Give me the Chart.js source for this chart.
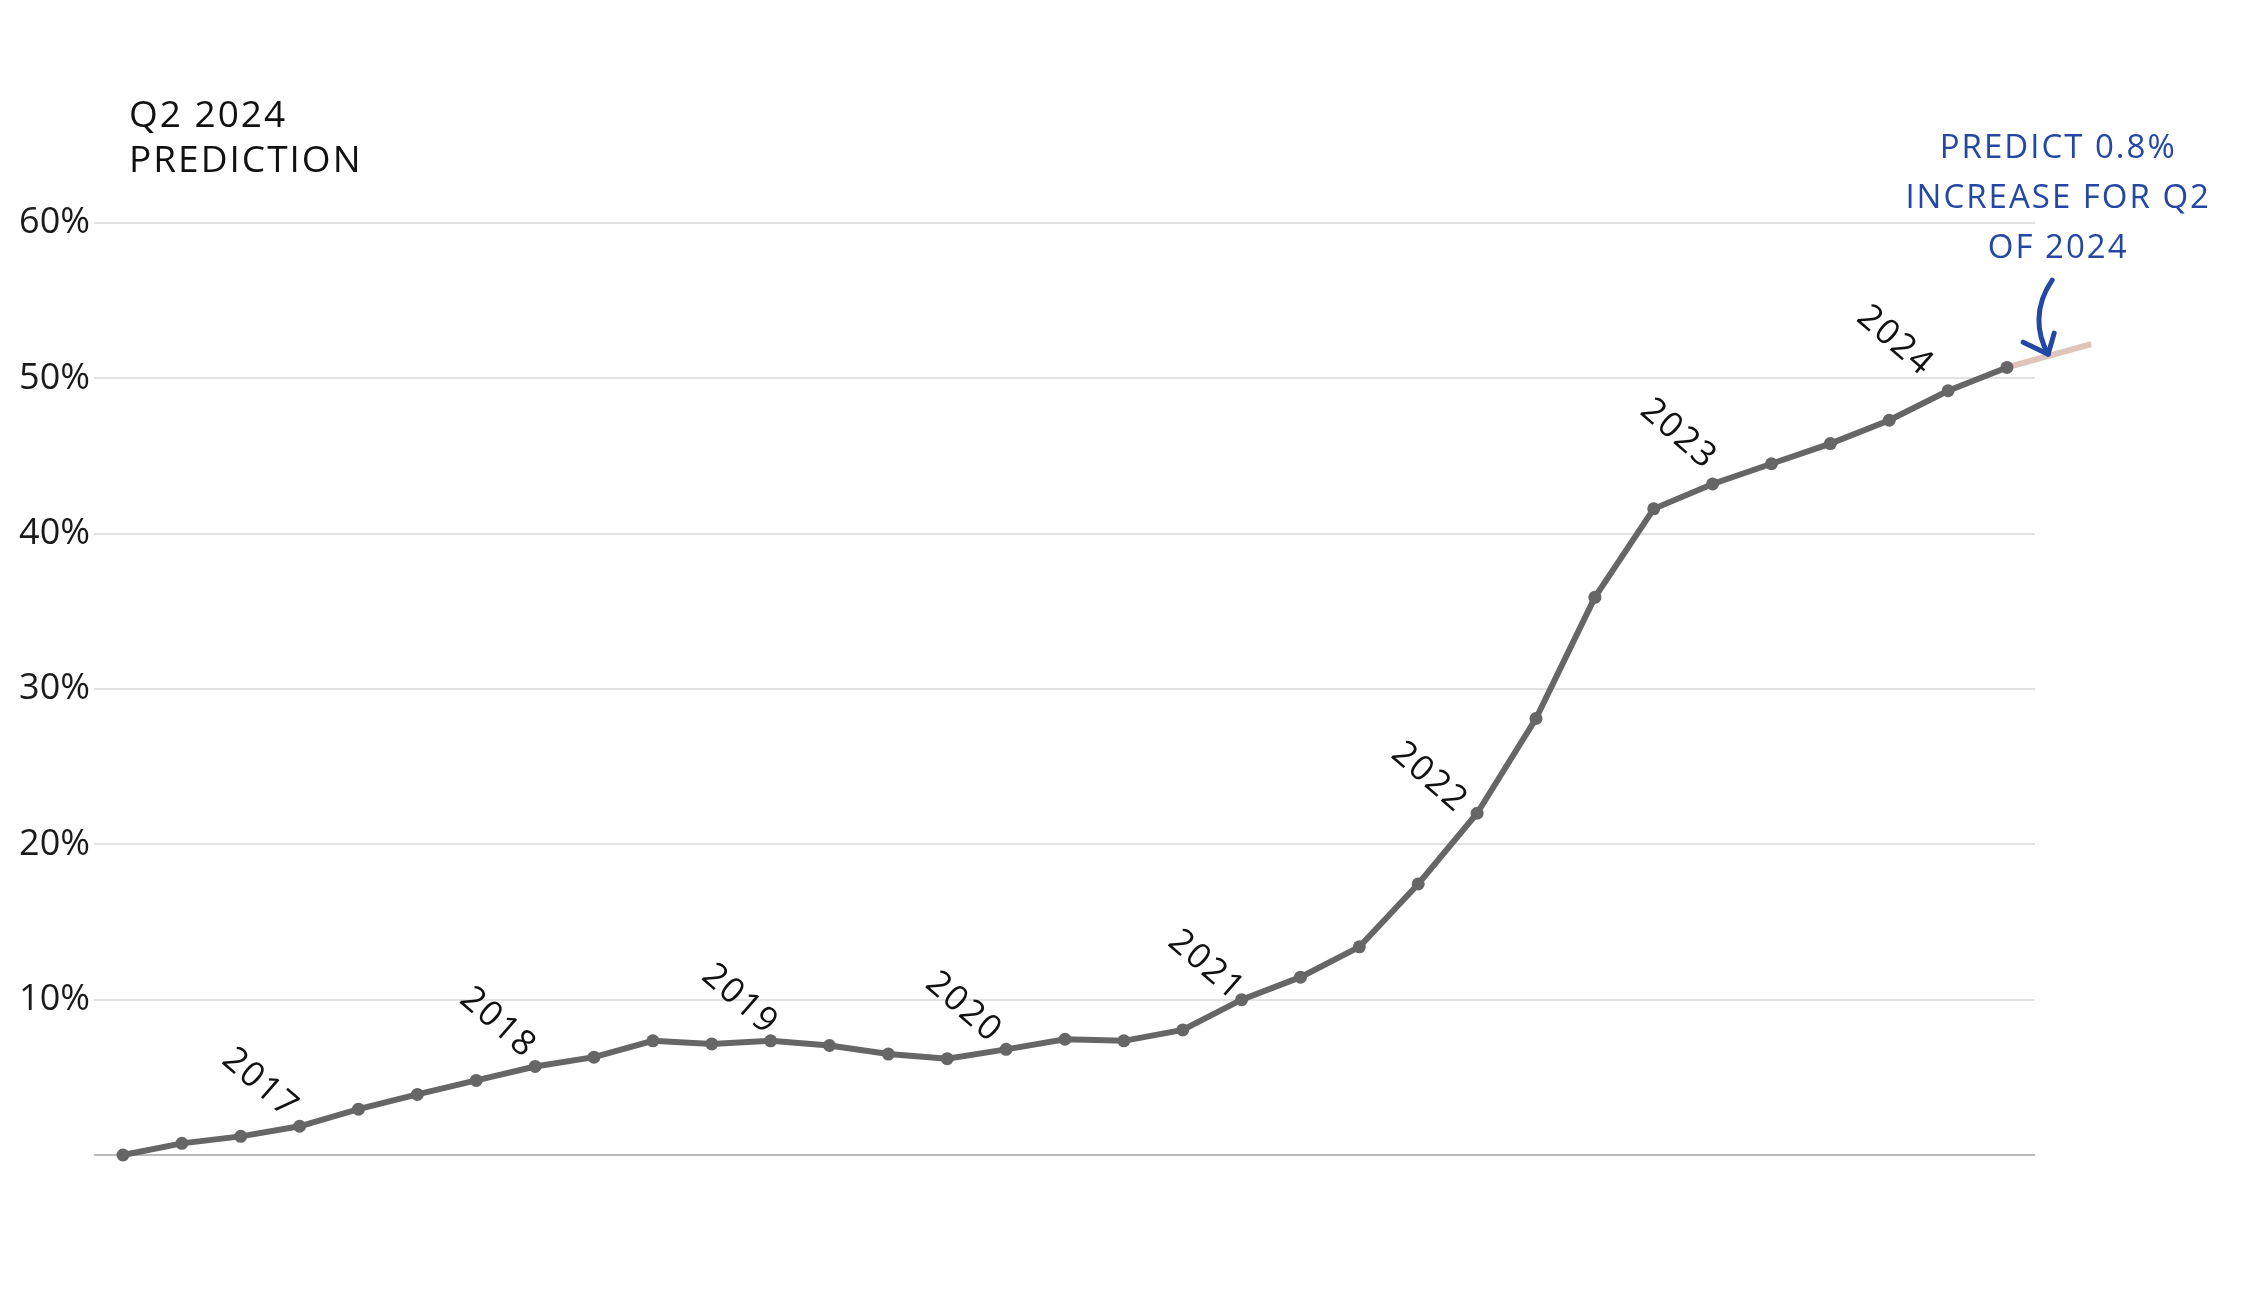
<!DOCTYPE html>
<html>
<head>
  <meta charset="utf-8">
  <title>Q2 2024 Prediction</title>
  <script src="https://cdn.jsdelivr.net/npm/chart.js"></script>
  <style>
    body { margin: 0; background: #fff; }
    canvas { display: block; }
  </style>
</head>
<body>
  <canvas id="chart" width="2254" height="1300"></canvas>

  <script>
    // quarters Q1 2016 .. Q1 2024
    const periods = [
      'Q1 2016', 'Q2 2016', 'Q3 2016', 'Q4 2016',
      'Q1 2017', 'Q2 2017', 'Q3 2017', 'Q4 2017',
      'Q1 2018', 'Q2 2018', 'Q3 2018', 'Q4 2018',
      'Q1 2019', 'Q2 2019', 'Q3 2019', 'Q4 2019',
      'Q1 2020', 'Q2 2020', 'Q3 2020', 'Q4 2020',
      'Q1 2021', 'Q2 2021', 'Q3 2021', 'Q4 2021',
      'Q1 2022', 'Q2 2022', 'Q3 2022', 'Q4 2022',
      'Q1 2023', 'Q2 2023', 'Q3 2023', 'Q4 2023',
      'Q1 2024'
    ];
    const values = [
      0, 0.75, 1.2, 1.85, 2.95, 3.9, 4.8, 5.7, 6.3, 7.35, 7.15,
      7.35, 7.05, 6.5, 6.2, 6.8, 7.45, 7.35, 8.05, 10.0, 11.45,
      13.4, 17.45, 22.0, 28.1, 35.9, 41.6, 43.2, 44.5, 45.8, 47.3,
      49.2, 50.7
    ];
    // Q2 2024 prediction, sits a bit past the last quarter
    const predictionX = 33.43;
    const predictionValue = 52.2;

    const yTicks = [0, 10, 20, 30, 40, 50, 60];

    const yearLabels = ['2017', '2018', '2019', '2020', '2021', '2022', '2023', '2024'];
    // where each year label sits, in data units (quarter index, %)
    const yearLabelX = [2.33, 6.37, 10.48, 14.28, 18.4, 22.19, 26.42, 30.1];
    const yearLabelY = [4.6, 8.5, 10.0, 9.5, 12.2, 24.3, 46.4, 52.4];

    const titleLines = ['Q2 2024', 'PREDICTION'];
    const noteLines = ['PREDICT 0.8%', 'INCREASE FOR Q2', 'OF 2024'];

    const FONT = '"Open Sans", "Noto Sans", sans-serif';
    const BLUE = '#2347a3';

    const actual = values.map((v, i) => ({ x: i, y: v }));
    const predicted = [
      { x: values.length - 1, y: values[values.length - 1] },
      { x: predictionX, y: predictionValue }
    ];

    const notes = {
      id: 'notes',
      afterDraw(chart) {
        const { ctx, scales: { x, y } } = chart;
        ctx.save();

        // title, top left
        ctx.fillStyle = '#111';
        ctx.font = `37px ${FONT}`;
        ctx.letterSpacing = '2px';
        ctx.textAlign = 'left';
        ctx.textBaseline = 'alphabetic';
        ctx.fillText(titleLines[0], 129, 127);
        ctx.fillText(titleLines[1], 129, 172);

        // year labels along the line
        ctx.font = `35px ${FONT}`;
        ctx.letterSpacing = '2px';
        ctx.textAlign = 'center';
        ctx.textBaseline = 'middle';
        yearLabels.forEach((t, i) => {
          ctx.save();
          ctx.translate(x.getPixelForValue(yearLabelX[i]), y.getPixelForValue(yearLabelY[i]));
          ctx.rotate(41 * Math.PI / 180);
          ctx.fillText(t, 0, 0);
          ctx.restore();
        });

        // arrow to the predicted segment
        const tx = x.getPixelForValue(32.7);
        const ty = y.getPixelForValue(51.3);
        ctx.strokeStyle = BLUE;
        ctx.lineWidth = 5;
        ctx.lineCap = 'round';
        ctx.lineJoin = 'round';
        ctx.beginPath();
        ctx.moveTo(tx + 4, ty - 78);
        ctx.bezierCurveTo(tx - 14, ty - 52, tx - 12, ty - 25, tx, ty - 4);
        ctx.stroke();
        ctx.beginPath();
        ctx.moveTo(tx - 25, ty - 16);
        ctx.lineTo(tx, ty - 4);
        ctx.lineTo(tx + 6, ty - 25);
        ctx.stroke();

        // note text above the arrow
        ctx.fillStyle = BLUE;
        ctx.font = `33px ${FONT}`;
        ctx.letterSpacing = '2px';
        ctx.textAlign = 'center';
        ctx.textBaseline = 'alphabetic';
        noteLines.forEach((t, i) => ctx.fillText(t, tx + 10, ty - 200 + i * 50));

        ctx.restore();
      }
    };

    new Chart(document.getElementById('chart'), {
      type: 'line',
      data: {
        datasets: [
          {
            label: 'Actual',
            data: actual,
            borderColor: '#666',
            backgroundColor: '#666',
            borderWidth: 6,
            pointRadius: 6.5,
            pointHoverRadius: 6.5,
            pointBorderWidth: 0,
            tension: 0,
            clip: false,
            order: 1
          },
          {
            label: 'Prediction',
            data: predicted,
            borderColor: '#dfc4bc',
            backgroundColor: '#dfc4bc',
            borderWidth: 6,
            pointRadius: ctx => ctx.dataIndex === 1 ? 7 : 0,
            pointBorderWidth: 0,
            tension: 0,
            clip: false,
            order: 2
          }
        ]
      },
      options: {
        responsive: false,
        devicePixelRatio: 1,
        animation: false,
        layout: { padding: { top: 223, bottom: 145, right: 219, left: 0 } },
        plugins: {
          legend: { display: false },
          tooltip: { enabled: false }
        },
        scales: {
          x: {
            type: 'linear',
            display: false,
            min: -0.4926,
            max: 32.476
          },
          y: {
            min: 0,
            max: 60,
            afterFit(scale) { scale.width = 94; },
            afterBuildTicks(scale) { scale.ticks = yTicks.map(v => ({ value: v })); },
            border: { display: false },
            grid: {
              drawTicks: false,
              lineWidth: 2,
              color: ctx => ctx.tick && ctx.tick.value === 0 ? '#bcbcbc' : '#e2e2e2'
            },
            ticks: {
              padding: 4,
              color: '#1a1a1a',
              font: { family: FONT, size: 36 },
              callback: v => v === 0 ? '' : v + '%'
            }
          }
        }
      },
      plugins: [notes]
    });
  </script>
</body>
</html>
